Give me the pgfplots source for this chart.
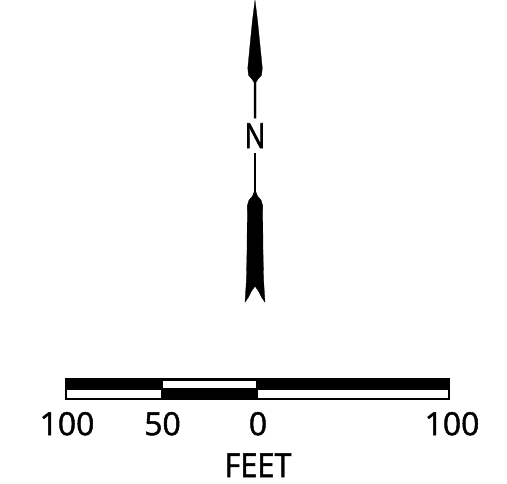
\documentclass[border=0pt]{standalone}
\usepackage{pgfplots}
\pgfplotsset{compat=1.18}
\usepackage{fontspec}
\setmainfont{Open Sans}
\newfontfamily\lbl{Open Sans}[FakeBold=1.5]
\begin{document}
\begin{tikzpicture}[x=1bp,y=1bp]
  \begin{axis}[
      width=507bp, height=483bp, scale only axis,
      xmin=0, xmax=507, ymin=0, ymax=483,
      y dir=reverse,
      hide axis, clip=false,
    ]
    % frame of the picture (invisible)
    \addplot[draw=none] coordinates {(0,0) (507,483)};

    % north arrow, upper head
    \addplot[fill=black, draw=black, line width=0.3bp] coordinates {
      (255,0) (257.5,20) (260,45) (262.3,68) (261.5,75) (258,79) (256,82)
      (256,118) (254,118)
      (254,82) (252,79) (248.5,75) (247.8,68) (250,45) (252.5,20)
    } -- cycle;

    % shaft below the N
    \addplot[black, line width=1.8bp] coordinates {(255,153) (255,194)};

    % north arrow, lower tail
    \addplot[fill=black, draw=black, line width=0.3bp] coordinates {
      (254,192) (256,192) (257.5,196) (261,200) (262.6,205)
      (263,250) (263.6,280) (265,302)
      (261.5,297) (258.5,291) (255,286) (251.5,291) (248.5,297)
      (245,302) (246.4,280) (247,250) (247.4,205)
      (249,200) (252.5,196)
    } -- cycle;

    % scale bar: black body with white panels
    \addplot[fill=black, draw=none] coordinates {
      (65,378) (450,378) (450,399.5) (65,399.5)} -- cycle;
    \addplot[fill=white, draw=none] coordinates {
      (163,380.5) (256,380.5) (256,388) (163,388)} -- cycle;
    \addplot[fill=white, draw=none] coordinates {
      (67,389.5) (161,389.5) (161,397.5) (67,397.5)} -- cycle;
    \addplot[fill=white, draw=none] coordinates {
      (258,389.5) (448,389.5) (448,397.5) (258,397.5)} -- cycle;

    % labels
    \node[anchor=base, xscale=0.8, inner sep=0pt,
          font=\lbl\fontsize{35}{40}\selectfont]
      at (axis cs:255,148) {N};
    \begin{scope}[every node/.style={anchor=base, inner sep=0pt,
        font=\lbl\fontsize{32}{36}\selectfont}]
      \node at (axis cs:67,435) {100};
      \node at (axis cs:162.5,435) {50};
      \node at (axis cs:258,435) {0};
      \node at (axis cs:452,435) {100};
    \end{scope}
    \node[anchor=base, xscale=0.92, inner sep=0pt,
          font=\lbl\fontsize{33.5}{38}\selectfont]
      at (axis cs:258,477) {FEET};
  \end{axis}
\end{tikzpicture}
\end{document}
